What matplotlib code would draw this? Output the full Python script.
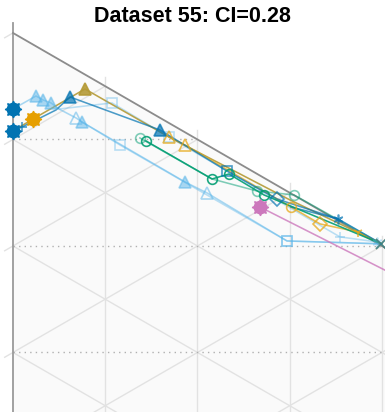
import numpy as np
import matplotlib
matplotlib.use("Agg")
import matplotlib.pyplot as plt

# Positions in triangle-side units (x to the right, y upward, top vertex at 0,0)
blue_x = [0.000, 0.085, 0.404, 0.535, 1.380, 2.009, 2.479, 3.052, 3.460]
blue_y = [-0.920, -0.883, -0.723, -0.601, -0.911, -1.296, -1.559, -1.746, -1.980]
blue_m = [None, "+", None, "^f", "^f", "s", "D", "ast", "x"]

lt_tri_x = [0.000, 0.216, 0.282, 0.357, 0.432, 0.592, 0.648, 1.615, 1.822, 2.573, 3.460]
lt_tri_y = [-0.714, -0.592, -0.629, -0.657, -0.714, -0.798, -0.836, -1.399, -1.502, -1.953, -1.980]
lt_tri_m = [None, "^f", "^f", "^f", None, "^", "^f", "^f", "^", "s", None]

lt_sq_x = [0.432, 0.930, 1.465, 2.009, 3.070, 3.418]
lt_sq_y = [-0.714, -0.657, -0.977, -1.296, -1.915, -1.962]
lt_sq_m = [None, "s", "s", None, "+", "ast"]

lt_sq2_x = [0.648, 1.005, 2.573, 3.460]
lt_sq2_y = [-0.836, -1.052, -1.953, -1.980]
lt_sq2_m = [None, "s", "s", None]

olive_x = [0.000, 0.188, 0.676, 1.465, 2.601, 3.460]
olive_y = [-0.920, -0.808, -0.526, -0.977, -1.568, -1.980]
olive_m = [None, None, "^f", None, None, None]

gold_x = [1.465, 1.615, 2.610, 2.883, 3.239, 3.460]
gold_y = [-0.977, -1.052, -1.634, -1.793, -1.869, -1.980]
gold_m = ["^", "^", "o", "D", "1", "x"]

green_x = [1.249, 1.869, 2.028, 2.357, 3.460]
green_y = [-1.014, -1.371, -1.324, -1.521, -1.980]
green_m = ["o", "o", "o", "o", None]

lt_green_x = [1.192, 1.869, 2.291, 2.638, 3.460]
lt_green_y = [-0.986, -1.371, -1.484, -1.521, -1.980]
lt_green_m = ["o", None, "o", "o", None]

blue2_x = [2.610, 3.052]
blue2_y = [-1.634, -1.746]

pink_x = [2.319, 4.009]
pink_y = [-1.634, -2.488]

# starting points (big filled markers)
start_x = [0.000, 0.000, 0.188, 2.319]
start_y = [-0.714, -0.920, -0.808, -1.634]
start_c = ["#0173b2", "#0173b2", "#e69f00", "#cc78bc"]

series = [
    (lt_sq2_x, lt_sq2_y, lt_sq2_m, "#56b4e9", 0.4),
    (lt_sq_x, lt_sq_y, lt_sq_m, "#56b4e9", 0.4),
    (lt_tri_x, lt_tri_y, lt_tri_m, "#56b4e9", 0.5),
    (pink_x, pink_y, [None, None], "#cc78bc", 0.8),
    (lt_green_x, lt_green_y, lt_green_m, "#029e73", 0.5),
    (olive_x, olive_y, olive_m, "#b49a36", 0.9),
    (gold_x, gold_y, gold_m, "#e6a817", 0.75),
    (blue_x, blue_y, blue_m, "#0173b2", 0.7),
    (blue2_x, blue2_y, [None, None], "#0173b2", 0.7),
    (green_x, green_y, green_m, "#029e73", 0.9),
]

marker_map = {"ast": (6, 2, 0)}

fig = plt.figure(figsize=(3.85, 4.17), dpi=100)
ax = fig.add_axes([0, 5 / 417, 1, 390 / 417])
ax.set_xlim(-0.122, 3.493)
ax.set_ylim(-3.559, 0.103)
ax.axis("off")

L = 8
t = np.tan(np.radians(30))
c30 = np.cos(np.radians(30))
tick = 0.09
grid_col = "#e2e2e2"

# background of the triangle
ax.fill([0, 0, L * c30], [0, -L, -L / 2], color="#fafafa", zorder=0)

# vertical grid lines (ticks above the top edge)
for k in range(1, L):
    u = k * c30
    ax.plot([u, u], [-u * t + tick, -L + u * t], color=grid_col, lw=1.0, zorder=1)
# up-right lines (ticks left of the left edge)
for k in range(0, L):
    u_end = k / (2 * t)
    ax.plot([-tick * c30, u_end], [-k - tick * 0.5, -u_end * t], color=grid_col, lw=1.0, zorder=1)
# down-right lines
for k in range(1, L):
    u_end = (L - k) / (2 * t)
    ax.plot([0, u_end], [-k, -k - u_end * t], color=grid_col, lw=1.0, zorder=1)
# dotted horizontal guides
for k in range(1, 4):
    ax.plot([0, k / t], [-k, -k], color="#b0b0b0", lw=1.0, ls=(0, (1, 3)), zorder=1)

# edges
ax.plot([0, 0], [tick, -L], color="#9a9a9a", lw=1.3, zorder=2)
ax.plot([0, L * c30], [0, -L / 2], color="#8c8c8c", lw=1.3, zorder=2)

for xs, ys, ms, col, a in series:
    ax.plot(xs, ys, color=col, alpha=a, lw=1.15, zorder=3)
    for x, y, m in zip(xs, ys, ms):
        if m is None:
            continue
        filled = m.endswith("f")
        key = m[:-1] if filled else m
        mk = marker_map.get(key, key)
        size = 8 if key == "^" else 7
        ax.plot(x, y, marker=mk, ms=size, color=col, alpha=a,
                mfc=col if filled else "none", mec=col, mew=1.2,
                ls="none", zorder=4)

for x, y, c in zip(start_x, start_y, start_c):
    ax.plot(x, y, marker="o", ms=9, color=c, mec=c, ls="none", zorder=5)
    ax.plot(x, y, marker=(8, 1, 0), ms=12, color=c, mec=c, mew=1.0, ls="none", zorder=5)

fig.text(0.5, 1 - 17 / 417, "Dataset 55: CI=0.28", ha="center", va="center",
         fontsize=15.5, fontweight="bold", family=["Liberation Sans", "DejaVu Sans"])

fig.savefig("out.png", dpi=100)
